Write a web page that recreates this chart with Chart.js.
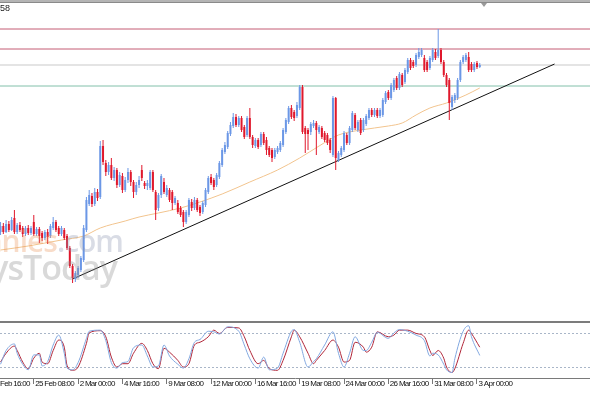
<!DOCTYPE html>
<html>
<head>
<meta charset="utf-8">
<script src="https://cdn.jsdelivr.net/npm/chart.js@4.4.0/dist/chart.umd.min.js"></script>
<style>
    body { margin: 0; background: #fff; }
    #wrap { position: relative; width: 590px; height: 393px; overflow: hidden; background: #fff; }
    #topbar { position: absolute; left: 0; top: 0; width: 590px; height: 3px; background: #b4b4b4; border-bottom: 1px solid #8a8a8a; box-sizing: border-box; }
    #price { position: absolute; left: 0; top: 3px; font: 9px "Liberation Sans", Arial, sans-serif; color: #222; }
    #shift { position: absolute; left: 481px; top: 3px; width: 0; height: 0; border-left: 3px solid transparent; border-right: 3px solid transparent; border-top: 4px solid #9a9a9a; }
    #sep { position: absolute; left: 0; top: 321px; width: 590px; height: 2px; background: #7c7c7c; }
    canvas { position: absolute; left: 0; }
    .wm { position: absolute; white-space: nowrap; font-family: "Open Sans", "Liberation Sans", sans-serif; font-weight: 600; letter-spacing: -1px; }
</style>
</head>
<body>
<div id="wrap">
    <div id="topbar"></div>
    <canvas id="mainChart" width="590" height="318" style="top:3px"></canvas>
    <canvas id="oscChart" width="590" height="70" style="top:323px"></canvas>
    <div id="sep"></div>
    <div id="price">58</div>
    <div id="shift"></div>
    <div class="wm" style="right:467px; top:220px; font-size:30px;"><span style="color:rgba(235,150,90,0.33)">ForexCompanies</span><span style="color:rgba(140,150,175,0.33)">.com</span></div>
    <div class="wm" style="right:473px; top:244px; font-size:34px; color:rgba(140,140,140,0.33)">ysToday</div>
</div>
<script>
// H4 candles, values (index 0 = 23 Feb 08:00)
var opens = [168,174,168,176,170,182,168,175,172,166,172,167,178,166,171,167,162,168,164,172,
    178,172,166,170,164,152,134,121,125,130,140,170,196,204,196,208,203,254,237,228,
    235,222,230,215,224,210,220,228,218,208,215,230,217,214,212,228,208,192,205,218,
    205,210,208,197,197,192,188,178,185,198,192,200,193,188,195,208,223,220,215,223,
    235,248,253,266,274,283,275,282,273,265,282,263,254,260,255,266,260,252,250,243,
    248,250,255,268,278,292,288,284,292,313,272,270,268,274,277,268,272,267,265,260,
    245,302,240,245,250,265,257,270,285,270,280,270,276,282,290,285,290,284,285,298,
    308,302,310,322,312,325,318,328,340,338,335,343,345,342,338,332,340,348,344,350,
    338,325,320,293,300,302,320,338,340,343,336,330,337,333];
var highs = [178,177,180,179,183,190,177,178,174,174,175,174,185,173,173,169,170,171,176,183,
    180,174,174,172,166,154,136,129,134,144,175,203,210,207,212,211,259,260,240,238,
    242,233,232,228,227,223,232,230,220,218,224,235,219,220,230,230,210,207,226,222,
    215,212,210,204,200,194,190,190,202,201,203,202,195,199,212,224,226,222,227,239,
    252,258,269,278,287,286,284,284,275,284,292,265,262,262,268,268,263,254,252,252,
    254,259,272,282,294,295,290,298,315,315,274,272,278,280,279,275,274,269,267,262,
    304,303,249,254,269,267,274,289,287,280,282,282,286,292,292,292,292,292,302,309,
    310,317,322,324,328,327,332,342,342,340,347,352,352,345,340,344,352,351,371,352,
    340,327,322,305,307,322,340,345,347,348,338,338,339,337];
var lows = [165,166,167,168,169,166,166,168,163,164,165,165,164,164,157,159,160,156,162,170,
    168,164,164,160,150,132,117,118,122,128,138,168,194,193,194,199,201,235,224,225,
    220,219,212,213,207,208,217,214,202,205,212,219,211,210,210,208,180,189,202,206,
    203,198,190,195,186,183,173,176,183,189,190,188,184,186,193,206,215,210,213,221,
    233,246,251,264,272,273,273,268,261,263,261,252,252,251,253,255,245,243,238,241,
    246,248,253,266,276,281,279,282,290,266,247,250,265,272,245,266,261,258,255,247,
    243,230,238,243,248,255,255,268,270,268,265,268,274,280,283,283,282,282,283,296,
    300,300,308,310,310,313,316,326,330,332,333,341,343,328,328,330,338,340,342,336,
    323,313,280,290,297,300,318,336,338,328,328,328,331,332];
var closes = [174,168,176,170,180,168,175,170,166,172,167,172,166,171,164,162,168,163,174,178,
    170,166,172,162,152,134,122,127,132,142,172,200,205,196,208,202,254,238,228,235,
    222,230,215,225,210,220,228,218,208,215,220,222,214,217,228,210,190,205,224,208,
    212,200,197,202,188,185,178,188,200,192,200,190,187,197,210,222,217,213,225,237,
    250,255,267,275,283,275,282,270,263,282,263,255,260,253,266,257,250,245,242,250,
    252,257,270,280,292,283,282,295,313,268,266,266,276,277,270,273,263,260,257,250,
    302,242,247,252,267,257,272,287,272,278,267,280,284,290,285,290,284,290,300,307,
    302,315,320,312,326,315,330,340,332,334,345,348,350,330,330,342,350,342,350,338,
    325,315,297,303,305,320,338,343,345,330,330,336,333,335];

// moving average (orange) and trend line (black)
var maBars = [0, 10, 22, 30, 36, 45, 50, 57, 65, 72, 80, 90, 100, 108, 115, 122, 130, 140, 145, 150, 155, 161, 168, 173];
var maValues = [150, 154, 160, 164, 172, 179, 183, 187, 192, 198, 206, 218, 230, 242, 254, 265, 270, 274, 277, 285, 292, 297, 305, 312];
var trendBars = [26, 200];
var trendValues = [121, 336];

// horizontal levels
var levelValues = [371, 351, 335, 314];
var levelColors = ['#c45c74', '#c45c74', '#c9c9c9', '#82c0aa'];

// stochastic oscillator
var stochBars = [0,2,5,6,8,10,12,14,15,17,19,21,23,24,26,28,31,32,36,38,40,42,44,46,48,51,53,55,57,59,61,64,66,68,70,72,75,77,79,82,
    86,88,90,93,95,97,100,102,105,106,108,111,113,114,117,120,122,124,126,128,131,132,134,136,140,142,144,147,150,153,155,156,158,160,161,163,164,167,169,170,173];
var stochK = [25,50,62,45,25,15,42,42,22,30,60,78,45,18,15,28,72,85,87,68,28,18,28,30,55,60,40,20,22,60,40,25,18,35,65,70,85,84,80,93,
    85,60,35,18,38,15,18,45,85,88,65,20,30,35,60,84,45,20,45,75,50,50,65,83,72,82,88,85,78,68,40,45,42,25,15,10,35,85,95,75,41];
var stochD = [29,45,58,50,29,17,36,45,29,26,50,69,56,23,14,20,63,82,86,75,38,20,26,26,45,63,50,26,17,54,47,32,20,26,60,65,75,87,81,92,
    91,75,50,26,32,17,14,32,75,87,75,45,26,32,50,69,56,29,32,65,56,47,56,84,75,78,87,87,81,75,50,41,50,36,20,10,17,63,87,81,56];
var stochLevels = [20, 80];

// time axis
var tickBars = [-4, 12, 28, 44, 60, 76, 92, 108, 124, 140, 156, 172];
var tickLabels = ['20 Feb 16:00', '25 Feb 08:00', '2 Mar 00:00', '4 Mar 16:00', '9 Mar 08:00', '12 Mar 00:00',
    '16 Mar 16:00', '19 Mar 08:00', '24 Mar 00:00', '26 Mar 16:00', '31 Mar 08:00', '3 Apr 00:00'];

var grafico = {
    xMin: -0.2,
    xMax: 212.8,
    upColor: '#6b97e6',
    downColor: '#e0182c',
    init: function () {
        Chart.defaults.font.family = '"Liberation Sans", Arial, sans-serif';
        grafico.mainChart();
        grafico.oscChart();
    },
    candleColors: function () {
        return opens.map(function (o, i) {
            return closes[i] >= o ? grafico.upColor : grafico.downColor;
        });
    },
    levelDataset: function (value, i) {
        return {
            type: 'line', data: [{x: grafico.xMin, y: value}, {x: grafico.xMax, y: value}],
            borderColor: levelColors[i], borderWidth: 1, pointRadius: 0, order: 5
        };
    },
    mainChart: function () {
        var colors = grafico.candleColors();
        var datasets = [
            {
                label: 'Bodies', data: opens.map(function (o, i) { return {x: i, y: [o, closes[i]]}; }),
                backgroundColor: colors, grouped: false, maxBarThickness: 2.5, order: 0
            },
            {
                label: 'Wicks', data: lows.map(function (l, i) { return {x: i, y: [l, highs[i]]}; }),
                backgroundColor: colors, grouped: false, maxBarThickness: 1, order: 1
            },
            {
                type: 'line', label: 'MA', data: maBars.map(function (b, i) { return {x: b, y: maValues[i]}; }),
                borderColor: '#f2c48e', borderWidth: 1, pointRadius: 0, cubicInterpolationMode: 'monotone', order: 3
            },
            {
                type: 'line', label: 'Trend', data: trendBars.map(function (b, i) { return {x: b, y: trendValues[i]}; }),
                borderColor: '#111', borderWidth: 1, pointRadius: 0, order: 2
            }
        ].concat(levelValues.map(grafico.levelDataset));

        new Chart(document.getElementById('mainChart').getContext('2d'), {
            type: 'bar',
            data: {datasets: datasets},
            options: {
                responsive: false, animation: false, devicePixelRatio: 1,
                layout: {padding: 0},
                plugins: {legend: {display: false}, tooltip: {enabled: false}},
                scales: {
                    x: {type: 'linear', min: grafico.xMin, max: grafico.xMax, offset: false, display: false},
                    y: {min: 79, max: 397, display: false}
                }
            }
        });
    },
    oscChart: function () {
        // MT4 axis text is narrow, tighten the letters a bit
        var narrowText = {
            id: 'narrowText',
            beforeDraw: function (chart) { chart.ctx.letterSpacing = '-0.7px'; }
        };
        new Chart(document.getElementById('oscChart').getContext('2d'), {
            type: 'line',
            plugins: [narrowText],
            data: {
                datasets: [
                    {
                        label: '%K', data: stochBars.map(function (b, i) { return {x: b, y: stochK[i]}; }),
                        borderColor: '#82a8e0', borderWidth: 1, pointRadius: 0, cubicInterpolationMode: 'monotone'
                    },
                    {
                        label: '%D', data: stochBars.map(function (b, i) { return {x: b, y: stochD[i]}; }),
                        borderColor: '#b02538', borderWidth: 1, pointRadius: 0, cubicInterpolationMode: 'monotone'
                    }
                ]
            },
            options: {
                responsive: false, animation: false, devicePixelRatio: 1,
                layout: {padding: 0},
                plugins: {legend: {display: false}, tooltip: {enabled: false}},
                scales: {
                    x: {
                        type: 'linear', min: grafico.xMin, max: grafico.xMax, offset: false,
                        afterBuildTicks: function (scale) {
                            scale.ticks = tickBars.map(function (b) { return {value: b}; });
                        },
                        afterFit: function (scale) {
                            scale.height = 15;
                            scale.paddingLeft = 0;
                            scale.paddingRight = 0;
                        },
                        ticks: {
                            autoSkip: false, maxRotation: 0, align: 'start', padding: -5, color: '#111',
                            font: {size: 8},
                            callback: function (value) {
                                return ' ' + tickLabels[tickBars.indexOf(value)];
                            }
                        },
                        grid: {drawOnChartArea: false, drawTicks: true, tickLength: 6, tickColor: '#777'},
                        border: {display: true, color: '#7a7a7a', width: 1}
                    },
                    y: {
                        min: 0, max: 100,
                        afterBuildTicks: function (scale) {
                            scale.ticks = stochLevels.map(function (v) { return {value: v}; });
                        },
                        afterFit: function (scale) { scale.width = 0; },
                        ticks: {display: false},
                        grid: {color: '#a9b6c8', drawTicks: false},
                        border: {display: false, dash: [2, 2]}
                    }
                }
            }
        });
    }
};
grafico.init();
</script>
</body>
</html>
